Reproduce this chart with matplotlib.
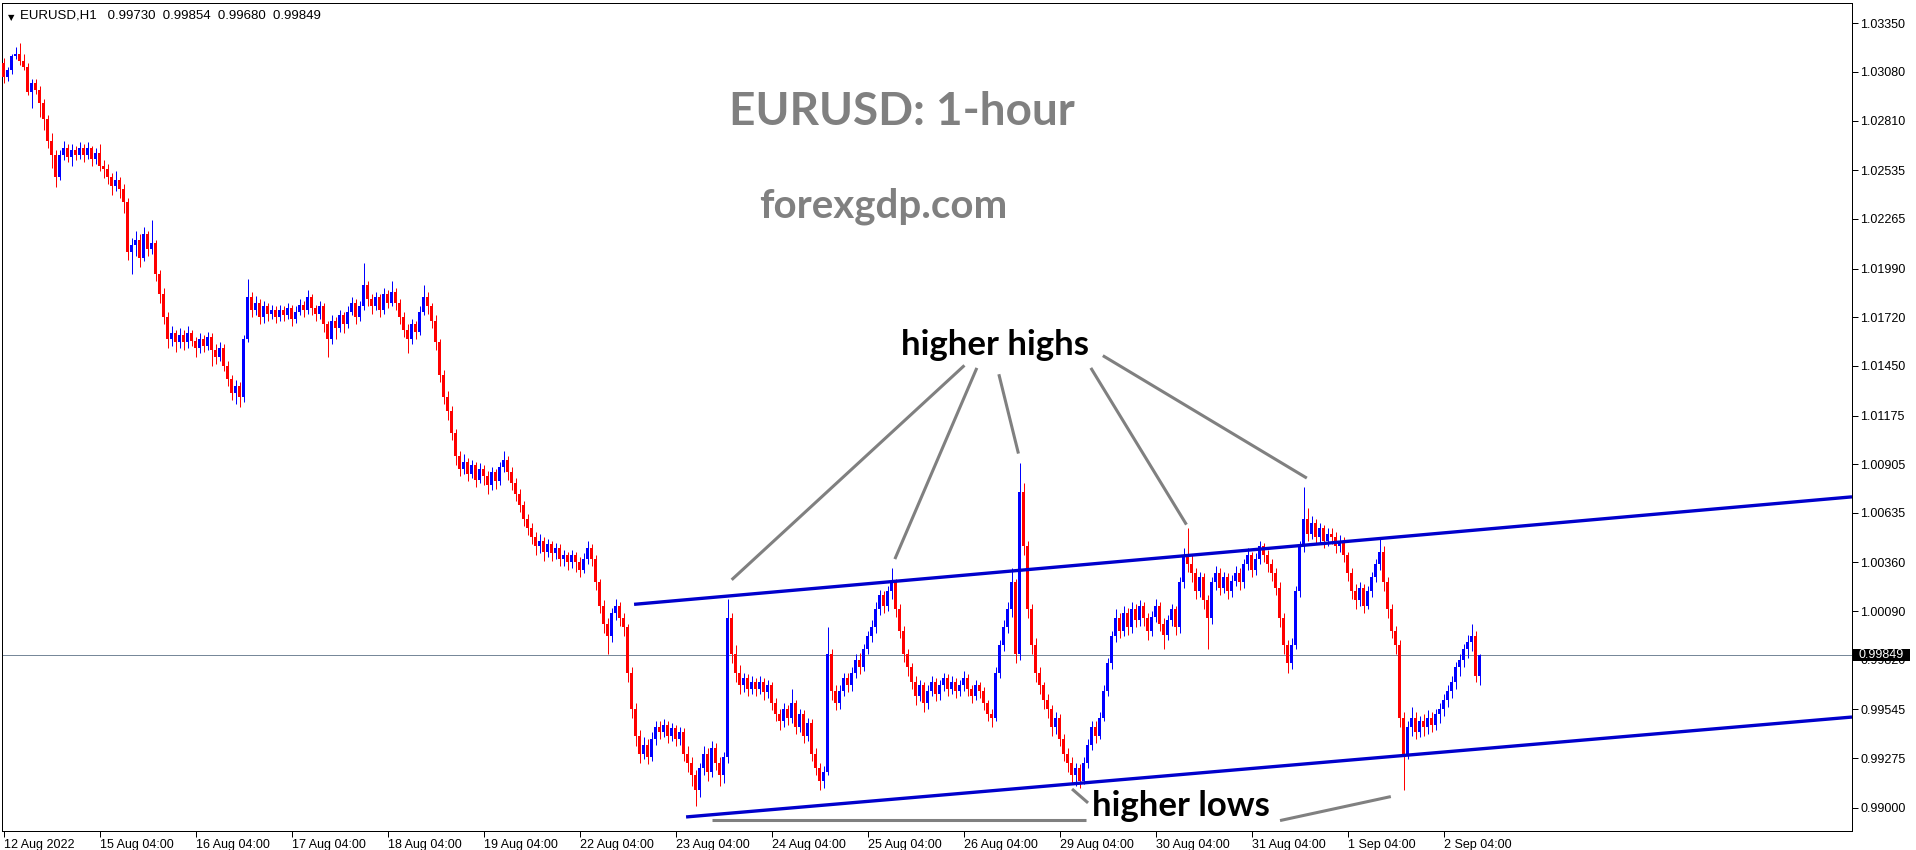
import numpy as np
import matplotlib
matplotlib.use("Agg")
import matplotlib.pyplot as plt
import matplotlib.transforms as mtransforms
from matplotlib.patches import Rectangle

# EURUSD H1, 12 Aug 04:00 .. 2 Sep 13:00 (one value per hourly bar)
first_open = 1.0313
closes = [
    # 12 Aug
    1.0305, 1.0309, 1.0317, 1.0318, 1.0314, 1.0311, 1.0297, 1.0302, 1.0298, 1.0291, 1.0282, 1.0270, 1.0262, 1.0250, 1.0262, 1.0266, 1.0261, 1.0265, 1.0262, 1.0266,
    # 15 Aug
    1.0262, 1.0266, 1.0260, 1.0263, 1.0256, 1.0254, 1.0250, 1.0245, 1.0248, 1.0243, 1.0236, 1.0208, 1.0212, 1.0215, 1.0205, 1.0218, 1.0210, 1.0213, 1.0196, 1.0185, 1.0172, 1.0160, 1.0163, 1.0158,
    # 16 Aug
    1.0162, 1.0158, 1.0163, 1.0159, 1.0155, 1.0160, 1.0156, 1.0161, 1.0154, 1.0150, 1.0155, 1.0145, 1.0138, 1.0130, 1.0134, 1.0128, 1.0160, 1.0183, 1.0176, 1.0180, 1.0172, 1.0178, 1.0174, 1.0176,
    # 17 Aug
    1.0172, 1.0176, 1.0173, 1.0177, 1.0171, 1.0175, 1.0179, 1.0176, 1.0183, 1.0177, 1.0174, 1.0178, 1.0168, 1.0160, 1.0170, 1.0166, 1.0173, 1.0168, 1.0175, 1.0180, 1.0172, 1.0178, 1.0190, 1.0182,
    # 18 Aug
    1.0178, 1.0183, 1.0176, 1.0185, 1.0180, 1.0186, 1.0180, 1.0172, 1.0165, 1.0160, 1.0168, 1.0164, 1.0175, 1.0183, 1.0178, 1.0170, 1.0158, 1.0140, 1.0128, 1.0120, 1.0108, 1.0095, 1.0088, 1.0092,
    # 19 Aug
    1.0085, 1.0090, 1.0082, 1.0088, 1.0084, 1.0079, 1.0086, 1.0081, 1.0089, 1.0093, 1.0086, 1.0080, 1.0074, 1.0068, 1.0060, 1.0055, 1.0050, 1.0045, 1.0048, 1.0042, 1.0046, 1.0041, 1.0044, 1.0038,
    # 22 Aug
    1.0040, 1.0036, 1.0040, 1.0036, 1.0032, 1.0038, 1.0044, 1.0038, 1.0025, 1.0012, 1.0002, 0.9995, 1.0008, 1.0012, 1.0005, 1.0000, 0.9975, 0.9955, 0.9940, 0.9930, 0.9935, 0.9928, 0.9938, 0.9945,
    # 23 Aug
    0.9942, 0.9946, 0.9940, 0.9944, 0.9938, 0.9942, 0.9930, 0.9925, 0.9918, 0.9910, 0.9922, 0.9930, 0.9920, 0.9933, 0.9925, 0.9918, 0.9928, 1.0005, 0.9985, 0.9975, 0.9968, 0.9972, 0.9966, 0.9970,
    # 24 Aug
    0.9966, 0.9970, 0.9964, 0.9968, 0.9958, 0.9952, 0.9948, 0.9955, 0.9950, 0.9958, 0.9945, 0.9952, 0.9940, 0.9947, 0.9930, 0.9922, 0.9915, 0.9920, 0.9985, 0.9965, 0.9958, 0.9965, 0.9972, 0.9968,
    # 25 Aug
    0.9975, 0.9982, 0.9978, 0.9988, 0.9995, 1.0000, 1.0010, 1.0018, 1.0012, 1.0020, 1.0025, 1.0010, 0.9998, 0.9985, 0.9978, 0.9970, 0.9962, 0.9968, 0.9958, 0.9965, 0.9970, 0.9963, 0.9968, 0.9972,
    # 26 Aug
    0.9966, 0.9970, 0.9965, 0.9968, 0.9972, 0.9966, 0.9962, 0.9968, 0.9965, 0.9958, 0.9952, 0.9950, 0.9975, 0.9990, 1.0000, 1.0010, 1.0025, 0.9985, 1.0075, 1.0045, 1.0010, 0.9990, 0.9975, 0.9968,
    # 29 Aug
    0.9960, 0.9955, 0.9945, 0.9950, 0.9938, 0.9930, 0.9925, 0.9918, 0.9922, 0.9915, 0.9925, 0.9935, 0.9945, 0.9940, 0.9950, 0.9965, 0.9980, 0.9995, 1.0005, 0.9998, 1.0008, 1.0000, 1.0010, 1.0004,
    # 30 Aug
    1.0012, 1.0005, 0.9998, 1.0006, 1.0012, 1.0002, 0.9996, 1.0004, 1.0010, 1.0000, 1.0025, 1.0040, 1.0035, 1.0030, 1.0020, 1.0028, 1.0015, 1.0005, 1.0025, 1.0030, 1.0022, 1.0028, 1.0020, 1.0026,
    # 31 Aug
    1.0030, 1.0025, 1.0035, 1.0040, 1.0032, 1.0038, 1.0045, 1.0040, 1.0035, 1.0030, 1.0022, 1.0005, 0.9990, 0.9980, 0.9990, 1.0020, 1.0045, 1.0060, 1.0052, 1.0058, 1.0050, 1.0055, 1.0048, 1.0052,
    # 1 Sep
    1.0050, 1.0045, 1.0048, 1.0040, 1.0030, 1.0020, 1.0015, 1.0022, 1.0012, 1.0020, 1.0028, 1.0035, 1.0042, 1.0025, 1.0010, 0.9998, 0.9990, 0.9950, 0.9930, 0.9945, 0.9950, 0.9942, 0.9948, 0.9945,
    # 2 Sep
    0.9950, 0.9946, 0.9952, 0.9955, 0.9960, 0.9965, 0.9970, 0.9978, 0.9982, 0.9988, 0.9992, 0.9995, 0.99730, 0.99849,
]
highs = [
    1.0316, 1.0311, 1.0318, 1.0322, 1.0324, 1.0318, 1.0313, 1.0304, 1.0304, 1.0300, 1.0293, 1.0284, 1.0274, 1.0265, 1.0265, 1.0270, 1.0268, 1.0268, 1.0267, 1.0269,
    1.0268, 1.0269, 1.0267, 1.0266, 1.0268, 1.0259, 1.0257, 1.0252, 1.0253, 1.0250, 1.0246, 1.0238, 1.0216, 1.0220, 1.0218, 1.0222, 1.0220, 1.0226, 1.0215, 1.0198, 1.0188, 1.0175, 1.0167, 1.0165,
    1.0166, 1.0165, 1.0167, 1.0165, 1.0161, 1.0163, 1.0162, 1.0164, 1.0163, 1.0157, 1.0158, 1.0157, 1.0148, 1.0140, 1.0137, 1.0136, 1.0162, 1.0193, 1.0186, 1.0184, 1.0182, 1.0181, 1.0180, 1.0179,
    1.0178, 1.0179, 1.0178, 1.0180, 1.0179, 1.0178, 1.0182, 1.0181, 1.0187, 1.0185, 1.0179, 1.0181, 1.0180, 1.0170, 1.0173, 1.0172, 1.0176, 1.0175, 1.0178, 1.0183, 1.0182, 1.0181, 1.0202, 1.0192,
    1.0185, 1.0186, 1.0185, 1.0188, 1.0187, 1.0192, 1.0188, 1.0182, 1.0175, 1.0168, 1.0171, 1.0170, 1.0178, 1.0190, 1.0186, 1.0180, 1.0173, 1.0160, 1.0143, 1.0131, 1.0123, 1.0110, 1.0098, 1.0096,
    1.0094, 1.0093, 1.0092, 1.0091, 1.0090, 1.0087, 1.0089, 1.0088, 1.0092, 1.0098, 1.0095, 1.0089, 1.0083, 1.0077, 1.0070, 1.0063, 1.0058, 1.0053, 1.0052, 1.0050, 1.0049, 1.0048, 1.0047, 1.0046,
    1.0043, 1.0042, 1.0043, 1.0042, 1.0039, 1.0041, 1.0048, 1.0046, 1.0040, 1.0027, 1.0015, 1.0005, 1.0011, 1.0016, 1.0014, 1.0008, 1.0002, 0.9978, 0.9958, 0.9943, 0.9939, 0.9938, 0.9942, 0.9948,
    0.9948, 0.9949, 0.9948, 0.9947, 0.9946, 0.9945, 0.9944, 0.9934, 0.9928, 0.9921, 0.9925, 0.9934, 0.9933, 0.9937, 0.9936, 0.9928, 0.9931, 1.0016, 1.0008, 0.9990, 0.9979, 0.9975, 0.9974, 0.9973,
    0.9972, 0.9973, 0.9972, 0.9971, 0.9970, 0.9961, 0.9955, 0.9958, 0.9957, 0.9966, 0.9960, 0.9955, 0.9954, 0.9950, 0.9949, 0.9933, 0.9925, 0.9923, 1.0000, 0.9988, 0.9968, 0.9968, 0.9975, 0.9975,
    0.9978, 0.9985, 0.9986, 0.9991, 0.9998, 1.0004, 1.0014, 1.0021, 1.0020, 1.0023, 1.0033, 1.0027, 1.0013, 1.0001, 0.9988, 0.9980, 0.9973, 0.9971, 0.9970, 0.9968, 0.9973, 0.9972, 0.9971, 0.9975,
    0.9974, 0.9973, 0.9972, 0.9971, 0.9976, 0.9974, 0.9968, 0.9971, 0.9970, 0.9967, 0.9960, 0.9955, 0.9978, 0.9993, 1.0004, 1.0014, 1.0033, 1.0027, 1.0091, 1.0080, 1.0048, 1.0013, 0.9994, 0.9978,
    0.9970, 0.9963, 0.9957, 0.9953, 0.9952, 0.9941, 0.9933, 0.9928, 0.9925, 0.9924, 0.9928, 0.9938, 0.9948, 0.9948, 0.9953, 0.9968, 0.9983, 0.9998, 1.0010, 1.0008, 1.0012, 1.0011, 1.0014, 1.0013,
    1.0015, 1.0014, 1.0008, 1.0009, 1.0016, 1.0014, 1.0005, 1.0007, 1.0013, 1.0012, 1.0028, 1.0044, 1.0055, 1.0040, 1.0033, 1.0031, 1.0030, 1.0018, 1.0028, 1.0034, 1.0033, 1.0031, 1.0030, 1.0029,
    1.0034, 1.0033, 1.0038, 1.0044, 1.0042, 1.0041, 1.0048, 1.0047, 1.0043, 1.0038, 1.0033, 1.0025, 1.0008, 0.9993, 0.9994, 1.0023, 1.0048, 1.0078, 1.0066, 1.0062, 1.0060, 1.0058, 1.0057, 1.0055,
    1.0055, 1.0053, 1.0051, 1.0050, 1.0042, 1.0033, 1.0024, 1.0025, 1.0024, 1.0023, 1.0031, 1.0038, 1.0049, 1.0045, 1.0028, 1.0013, 1.0001, 0.9993, 0.9953, 0.9948, 0.9956, 0.9953, 0.9951, 0.9952,
    0.9954, 0.9953, 0.9955, 0.9958, 0.9963, 0.9968, 0.9973, 0.9981, 0.9985, 0.9991, 0.9996, 1.0002, 0.9998, 0.99854,
]
lows = [
    1.0302, 1.0303, 1.0307, 1.0315, 1.0312, 1.0309, 1.0295, 1.0288, 1.0296, 1.0283, 1.0276, 1.0266, 1.0255, 1.0244, 1.0248, 1.0259, 1.0258, 1.0256, 1.0259, 1.0260,
    1.0258, 1.0260, 1.0256, 1.0257, 1.0253, 1.0249, 1.0246, 1.0240, 1.0242, 1.0238, 1.0230, 1.0204, 1.0196, 1.0206, 1.0200, 1.0203, 1.0206, 1.0207, 1.0192, 1.0180, 1.0168, 1.0155, 1.0156, 1.0153,
    1.0155, 1.0154, 1.0155, 1.0156, 1.0150, 1.0152, 1.0153, 1.0154, 1.0145, 1.0146, 1.0148, 1.0142, 1.0134, 1.0126, 1.0124, 1.0122, 1.0125, 1.0158, 1.0172, 1.0173, 1.0168, 1.0169, 1.0170, 1.0171,
    1.0169, 1.0170, 1.0170, 1.0171, 1.0167, 1.0169, 1.0173, 1.0172, 1.0174, 1.0173, 1.0170, 1.0171, 1.0164, 1.0150, 1.0157, 1.0160, 1.0164, 1.0163, 1.0166, 1.0173, 1.0168, 1.0170, 1.0176, 1.0178,
    1.0174, 1.0176, 1.0172, 1.0174, 1.0177, 1.0178, 1.0176, 1.0168, 1.0161, 1.0152, 1.0157, 1.0160, 1.0162, 1.0173, 1.0174, 1.0166, 1.0154, 1.0136, 1.0124, 1.0115, 1.0104, 1.0090, 1.0084, 1.0085,
    1.0081, 1.0083, 1.0078, 1.0080, 1.0079, 1.0074, 1.0076, 1.0077, 1.0079, 1.0086, 1.0082, 1.0076, 1.0070, 1.0064, 1.0056, 1.0051, 1.0046, 1.0040, 1.0041, 1.0037, 1.0039, 1.0037, 1.0038, 1.0034,
    1.0034, 1.0032, 1.0033, 1.0031, 1.0028, 1.0030, 1.0035, 1.0034, 1.0021, 1.0008, 0.9997, 0.9985, 0.9992, 1.0004, 1.0001, 0.9995, 0.9970, 0.9950, 0.9934, 0.9925, 0.9927, 0.9924, 0.9926, 0.9935,
    0.9938, 0.9939, 0.9936, 0.9937, 0.9934, 0.9935, 0.9926, 0.9920, 0.9912, 0.9901, 0.9906, 0.9918, 0.9915, 0.9917, 0.9921, 0.9912, 0.9914, 0.9925, 0.9980, 0.9970, 0.9963, 0.9964, 0.9962, 0.9963,
    0.9962, 0.9963, 0.9960, 0.9961, 0.9954, 0.9948, 0.9943, 0.9945, 0.9946, 0.9947, 0.9941, 0.9942, 0.9936, 0.9937, 0.9926, 0.9918, 0.9910, 0.9911, 0.9918, 0.9960, 0.9954, 0.9955, 0.9962, 0.9964,
    0.9965, 0.9972, 0.9974, 0.9976, 0.9985, 0.9992, 0.9997, 1.0007, 1.0008, 1.0009, 1.0016, 1.0006, 0.9994, 0.9981, 0.9973, 0.9966, 0.9957, 0.9959, 0.9953, 0.9955, 0.9962, 0.9959, 0.9960, 0.9965,
    0.9962, 0.9963, 0.9961, 0.9962, 0.9965, 0.9962, 0.9958, 0.9960, 0.9961, 0.9954, 0.9948, 0.9945, 0.9948, 0.9972, 0.9987, 0.9997, 1.0006, 0.9980, 0.9982, 1.0040, 1.0005, 0.9985, 0.9970, 0.9963,
    0.9955, 0.9950, 0.9940, 0.9941, 0.9934, 0.9926, 0.9920, 0.9914, 0.9912, 0.9911, 0.9913, 0.9922, 0.9932, 0.9936, 0.9938, 0.9948, 0.9962, 0.9977, 0.9992, 0.9994, 0.9995, 0.9996, 0.9997, 1.0000,
    1.0001, 1.0001, 0.9993, 0.9995, 1.0003, 0.9998, 0.9988, 0.9993, 1.0001, 0.9996, 0.9997, 1.0022, 1.0031, 1.0025, 1.0016, 1.0017, 1.0010, 0.9988, 1.0002, 1.0021, 1.0018, 1.0019, 1.0016, 1.0017,
    1.0023, 1.0021, 1.0022, 1.0032, 1.0028, 1.0029, 1.0035, 1.0036, 1.0031, 1.0026, 1.0018, 1.0000, 0.9985, 0.9975, 0.9977, 0.9988, 1.0017, 1.0042, 1.0048, 1.0049, 1.0046, 1.0047, 1.0044, 1.0045,
    1.0046, 1.0041, 1.0042, 1.0036, 1.0026, 1.0016, 1.0010, 1.0012, 1.0008, 1.0010, 1.0017, 1.0025, 1.0032, 1.0020, 1.0005, 0.9994, 0.9985, 0.9945, 0.9910, 0.9927, 0.9940, 0.9938, 0.9939, 0.9940,
    0.9941, 0.9942, 0.9943, 0.9947, 0.9951, 0.9956, 0.9961, 0.9966, 0.9973, 0.9978, 0.9983, 0.9987, 0.9970, 0.99680,
]
assert len(closes) == len(highs) == len(lows)

date_ticks = [0, 24, 48, 72, 96, 120, 144, 168, 192, 216, 240, 264, 288, 312, 336, 360]
date_labels = ['12 Aug 2022', '15 Aug 04:00', '16 Aug 04:00', '17 Aug 04:00', '18 Aug 04:00',
               '19 Aug 04:00', '22 Aug 04:00', '23 Aug 04:00', '24 Aug 04:00', '25 Aug 04:00',
               '26 Aug 04:00', '29 Aug 04:00', '30 Aug 04:00', '31 Aug 04:00', '1 Sep 04:00',
               '2 Sep 04:00']
price_ticks = [1.03350, 1.03080, 1.02810, 1.02535, 1.02265, 1.01990, 1.01720, 1.01450, 1.01175,
               1.00905, 1.00635, 1.00360, 1.00090, 0.99820, 0.99545, 0.99275, 0.99000]
last_price = 0.99849

# channel lines and arrows drawn by hand on the chart (bar index, price)
upper_channel = ([157.6, 462.1], [1.00128, 1.00724])
lower_channel = ([170.6, 462.1], [0.98949, 0.99503])
hh_arrows = [((240.2, 1.01453), (182.0, 1.00264)),
             ((243.3, 1.01439), (222.8, 1.00379)),
             ((248.8, 1.01404), (253.7, 1.00964)),
             ((271.8, 1.01439), (295.7, 1.00570)),
             ((274.8, 1.01507), (325.8, 1.00828))]
hl_arrows = [((270.6, 0.98932), (177.1, 0.98932)),
             ((271.1, 0.99027), (267.1, 0.99104)),
             ((319.1, 0.98929), (346.8, 0.99062))]

BULL = '#0000ff'
BEAR = '#ff0000'
px = 0.72  # one pixel in points at dpi 100

fig = plt.figure(figsize=(19.16, 8.5), dpi=100)
ax = fig.add_axes([2 / 1916, 19 / 850, 1850 / 1916, 828 / 850])

x = np.arange(len(closes))
opens = [first_open] + closes[:-1]
cols = [BULL if c >= o else BEAR for o, c in zip(opens, closes)]
ax.vlines(x, lows, highs, colors=cols, linewidth=px, zorder=2)
bottoms = [min(o, c) for o, c in zip(opens, closes)]
heights = [max(abs(c - o), 0.00005) for o, c in zip(opens, closes)]
ax.bar(x, heights, bottom=bottoms, width=0.8, color=cols, linewidth=0, zorder=3)

ax.axhline(last_price, color='#778899', linewidth=px, zorder=1)

ax.plot(*upper_channel, color='#0000cc', linewidth=2.4, solid_capstyle='butt', zorder=4)
ax.plot(*lower_channel, color='#0000cc', linewidth=2.4, solid_capstyle='butt', zorder=4)
for (x0, y0), (x1, y1) in hh_arrows + hl_arrows:
    ax.plot([x0, x1], [y0, y1], color='#808080', linewidth=2.2, solid_capstyle='butt', zorder=5)

ax.text(247.8, 1.01565, 'higher highs', fontsize=25, fontweight='bold', family='Lato',
        ha='center', va='center', color='black', zorder=6)
ax.text(294.3, 0.99010, 'higher lows', fontsize=25, fontweight='bold', family='Lato',
        ha='center', va='center', color='black', zorder=6)
ax.text(224.6, 1.02857, 'EURUSD: 1-hour', fontsize=33, fontweight='bold', family='Lato',
        ha='center', va='center', color='#808080')
ax.text(220.0, 1.02336, 'forexgdp.com', fontsize=29, fontweight='bold', family='Lato',
        ha='center', va='center', color='#808080')

ax.set_xlim(-0.425, 462.1)
ax.set_ylim(0.988711, 1.034625)

ax.yaxis.tick_right()
ax.set_yticks(price_ticks)
ax.set_yticklabels([f'{p:.5f}' for p in price_ticks])
ax.set_xticks(date_ticks)
ax.set_xticklabels(date_labels, ha='left')
ax.tick_params(axis='both', direction='out', length=4, width=px, color='black',
               labelcolor='black', pad=2)
ax.tick_params(axis='y', labelsize=9)
ax.tick_params(axis='x', labelsize=9)
for lab in ax.get_xticklabels() + ax.get_yticklabels():
    lab.set_family('Liberation Sans')
for sp in ax.spines.values():
    sp.set_linewidth(px)
    sp.set_color('black')

# current price box on the right scale
trans = mtransforms.blended_transform_factory(ax.transAxes, ax.transData)
ax.add_patch(Rectangle((1.0005, last_price - 0.00034), 0.0308, 0.00068, transform=trans,
                       facecolor='black', edgecolor='none', clip_on=False, zorder=10))
ax.text(1.0036, last_price, f'{last_price:.5f}', transform=trans, ha='left', va='center',
        fontsize=9, family='Liberation Sans', color='white', zorder=11)

# header in the top-left corner
ax.text(0.0030, 0.988, '\u25bc', transform=ax.transAxes, fontsize=6, ha='left', va='top',
        family='DejaVu Sans', color='black')
ax.text(0.0095, 0.992, 'EURUSD,H1   0.99730  0.99854  0.99680  0.99849', transform=ax.transAxes,
        fontsize=9.5, family='Liberation Sans', ha='left', va='top', color='black')

fig.savefig('out.png', dpi=100, facecolor='white')
